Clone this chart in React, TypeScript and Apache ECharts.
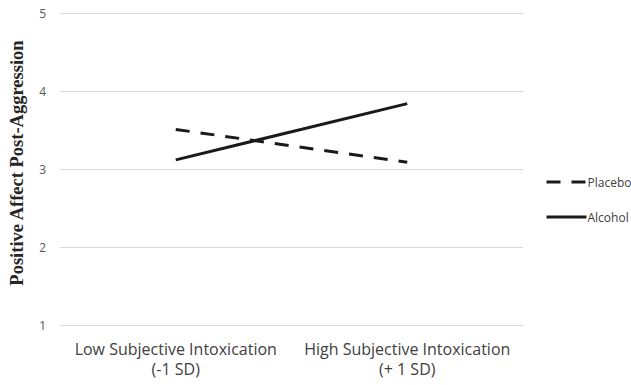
import React, { useEffect, useRef } from "react";
import * as echarts from "echarts";

const categories = ["Low Subjective Intoxication\n(-1 SD)", "High Subjective Intoxication\n(+ 1 SD)"];
const placebo = [3.51, 3.09];
const alcohol = [3.12, 3.84];
const yTicks = { min: 1, max: 5, interval: 1 };
const yAxisTitle = "Positive Affect Post-Aggression";

export default function App() {
  const ref = useRef<HTMLDivElement>(null);
  useEffect(() => {
    if (!ref.current) return;
    const chart = echarts.init(ref.current, undefined, { renderer: "svg" });
    chart.setOption({
      animation: false,
      backgroundColor: "#ffffff",
      grid: { left: 60, right: 108, top: 13, bottom: 59.5 },
      graphic: [
        {
          type: "text",
          x: 17,
          y: 163,
          rotation: Math.PI / 2,
          style: {
            text: yAxisTitle,
            fontFamily: "Liberation Serif",
            fontWeight: "bold",
            fontSize: 18.5,
            fill: "#262626",
            align: "center",
            verticalAlign: "middle",
          },
        },
      ],
      legend: {
        orient: "vertical",
        left: 540,
        top: 171,
        itemWidth: 40,
        itemHeight: 14,
        itemGap: 23,
        itemStyle: { opacity: 0 },
        lineStyle: { width: 3 },
        textStyle: { fontFamily: "Open Sans", fontSize: 12, color: "#404040", padding: [0, 0, 0, -4] },
        data: ["Placebo", "Alcohol"],
      },
      xAxis: {
        type: "category",
        data: categories,
        boundaryGap: true,
        axisLine: { show: false },
        axisTick: { show: false },
        axisLabel: {
          interval: 0,
          margin: 13,
          fontFamily: "Open Sans",
          fontSize: 16,
          lineHeight: 20,
          color: "#404040",
        },
      },
      yAxis: {
        type: "value",
        min: yTicks.min,
        max: yTicks.max,
        interval: yTicks.interval,
        axisLine: { show: false },
        axisTick: { show: false },
        axisLabel: {
          margin: 14,
          fontFamily: "Open Sans",
          fontSize: 12,
          color: "#595959",
        },
        splitLine: { lineStyle: { color: "#d9d9d9", width: 1 } },
      },
      series: [
        {
          name: "Placebo",
          type: "line",
          data: placebo,
          symbol: "none",
          itemStyle: { color: "#1a1a1a" },
          lineStyle: { color: "#1a1a1a", width: 3, type: [14, 11] },
        },
        {
          name: "Alcohol",
          type: "line",
          data: alcohol,
          symbol: "none",
          itemStyle: { color: "#1a1a1a" },
          lineStyle: { color: "#1a1a1a", width: 3 },
        },
      ],
    });
    return () => chart.dispose();
  }, []);
  return (
    <div
      ref={ref}
      style={{ position: "fixed", left: 0, top: 0, width: 631, height: 385 }}
    />
  );
}
